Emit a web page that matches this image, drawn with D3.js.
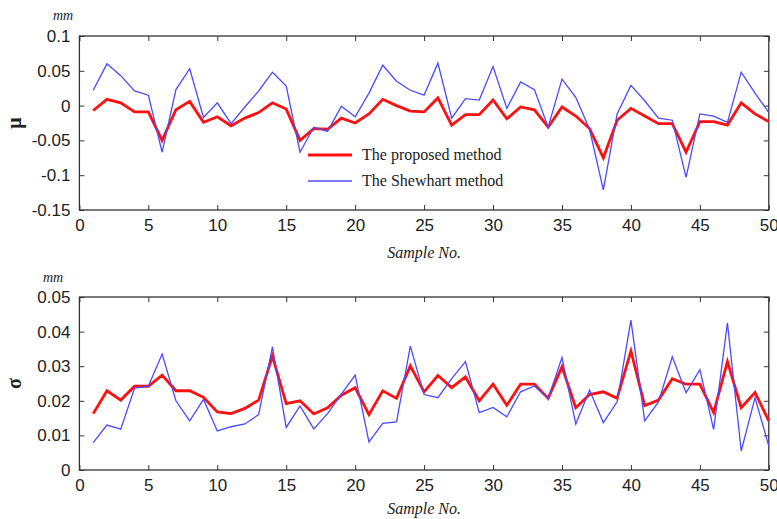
<!DOCTYPE html>
<html><head><meta charset="utf-8">
<script src="https://cdn.jsdelivr.net/npm/d3@7/dist/d3.min.js"></script>
<style>
body{margin:0;background:#fff;}
svg text{fill:#222;}
</style></head>
<body><svg id="c" width="777" height="519"></svg>
<script>
const samples = d3.range(1, 51);
const muProposed = [-0.007,0.009,0.004,-0.009,-0.009,-0.050,-0.006,0.006,-0.024,-0.016,
  -0.029,-0.018,-0.010,0.004,-0.005,-0.050,-0.033,-0.034,-0.018,-0.025,
  -0.012,0.009,0.000,-0.008,-0.009,0.011,-0.028,-0.013,-0.013,0.008,
  -0.019,-0.002,-0.006,-0.031,-0.002,-0.015,-0.033,-0.075,-0.021,-0.004,
  -0.015,-0.026,-0.026,-0.067,-0.023,-0.023,-0.028,0.004,-0.012,-0.023];
const muShewhart = [0.022,0.060,0.043,0.021,0.015,-0.067,0.023,0.053,-0.017,0.004,
  -0.026,-0.002,0.021,0.048,0.028,-0.067,-0.031,-0.037,-0.001,-0.016,
  0.018,0.058,0.035,0.022,0.015,0.061,-0.018,0.010,0.008,0.056,
  -0.004,0.034,0.023,-0.031,0.038,0.012,-0.034,-0.121,-0.012,0.029,
  0.007,-0.018,-0.021,-0.103,-0.012,-0.015,-0.024,0.048,0.018,-0.010];
const sigmaProposed = [0.0163,0.0229,0.0202,0.0242,0.0242,0.0274,0.0229,0.0229,0.0210,0.0168,
  0.0163,0.0178,0.0202,0.0329,0.0192,0.0200,0.0162,0.0180,0.0216,0.0238,
  0.0160,0.0229,0.0207,0.0301,0.0226,0.0273,0.0238,0.0269,0.0200,0.0248,
  0.0187,0.0248,0.0248,0.0207,0.0298,0.0180,0.0218,0.0226,0.0207,0.0344,
  0.0186,0.0202,0.0264,0.0248,0.0248,0.0166,0.0313,0.0180,0.0224,0.0142];
const sigmaShewhart = [0.0079,0.0130,0.0118,0.0237,0.0242,0.0335,0.0200,0.0142,0.0204,0.0113,
  0.0125,0.0133,0.0160,0.0356,0.0123,0.0185,0.0119,0.0163,0.0219,0.0274,
  0.0081,0.0135,0.0139,0.0358,0.0218,0.0209,0.0264,0.0313,0.0166,0.0181,
  0.0154,0.0226,0.0243,0.0207,0.0325,0.0133,0.0231,0.0137,0.0197,0.0433,
  0.0142,0.0197,0.0327,0.0223,0.0290,0.0117,0.0425,0.0055,0.0209,0.0069];
const xTicks = [0,5,10,15,20,25,30,35,40,45,50];
const muTicks = [-0.15,-0.1,-0.05,0,0.05,0.1];
const muTickLabels = ["-0.15","-0.1","-0.05","0","0.05","0.1"];
const sigmaTicks = [0,0.01,0.02,0.03,0.04,0.05];
const sigmaTickLabels = ["0","0.01","0.02","0.03","0.04","0.05"];
const legendLabels = ["The proposed method","The Shewhart method"];
const colors = ["#ff1010","#4a4aff"];
const widths = [2.8,1.3];

const svg = d3.select("#c");
const x = d3.scaleLinear().domain([0,50]).range([79.4,768.8]);

function panel(top, bottom, domain, ticks, labels, series, yLabel, xLabelY, mmPos){
  const y = d3.scaleLinear().domain(domain).range([bottom, top]);
  const g = svg.append("g");
  const tickFont = "17px 'Liberation Sans', Arial, sans-serif";
  // axes
  const ax = d3.axisBottom(x).tickValues(xTicks).tickSize(-5).tickPadding(9).tickFormat(d3.format("d"));
  const gx = g.append("g").attr("transform",`translate(0,${bottom})`).call(ax);
  gx.selectAll("text").style("font", tickFont).attr("fill","#222");
  const axT = d3.axisTop(x).tickValues(xTicks).tickSize(-5).tickFormat("");
  g.append("g").attr("transform",`translate(0,${top})`).call(axT);
  const ay = d3.axisLeft(y).tickValues(ticks).tickSize(-5).tickPadding(9).tickFormat((d,i)=>labels[i]);
  const gy = g.append("g").attr("transform",`translate(${x(0)},0)`).call(ay);
  gy.selectAll("text").style("font", tickFont).attr("fill","#222");
  const ayR = d3.axisRight(y).tickValues(ticks).tickSize(-5).tickFormat("");
  g.append("g").attr("transform",`translate(${x(50)},0)`).call(ayR);
  g.selectAll(".domain").remove();
  g.selectAll(".tick line").attr("stroke","#333");
  g.append("rect").attr("x",x(0)).attr("y",top).attr("width",x(50)-x(0)).attr("height",bottom-top)
    .attr("fill","none").attr("stroke","#333").attr("stroke-width",1.3);
  // lines
  const line = d3.line().x((d,i)=>x(samples[i])).y(d=>y(d));
  series.forEach((s,k)=>{
    g.append("path").datum(s).attr("d",line).attr("fill","none")
      .attr("stroke",colors[k]).attr("stroke-width",widths[k]).attr("stroke-linejoin","miter");
  });
  // labels
  g.append("text").attr("x",mmPos[0]).attr("y",mmPos[1]).attr("text-anchor","middle")
    .style("font","italic 14px 'Liberation Serif', 'Times New Roman', serif").text("mm");
  g.append("text").attr("transform",`translate(21,${(top+bottom)/2}) rotate(-90)`).attr("text-anchor","middle")
    .style("font","bold 20px 'Liberation Serif', 'Times New Roman', serif").text(yLabel);
  g.append("text").attr("x",(x(0)+x(50))/2).attr("y",xLabelY).attr("text-anchor","middle")
    .style("font","italic 16px 'Liberation Serif', 'Times New Roman', serif").text("Sample No.");
  return y;
}

panel(36,210,[-0.15,0.1],muTicks,muTickLabels,[muProposed,muShewhart],"μ",258,[63,20]);
panel(297,470,[0,0.05],sigmaTicks,sigmaTickLabels,[sigmaProposed,sigmaShewhart],"σ",514,[53,282]);

// legend
const lg = svg.append("g");
legendLabels.forEach((t,i)=>{
  const ly = 155 + i*26;
  lg.append("line").attr("x1",308).attr("x2",352).attr("y1",ly).attr("y2",ly)
    .attr("stroke",colors[i]).attr("stroke-width",widths[i]);
  lg.append("text").attr("x",362).attr("y",ly+5)
    .style("font","16px 'Liberation Serif', 'Times New Roman', serif").text(t);
});
</script></body></html>
